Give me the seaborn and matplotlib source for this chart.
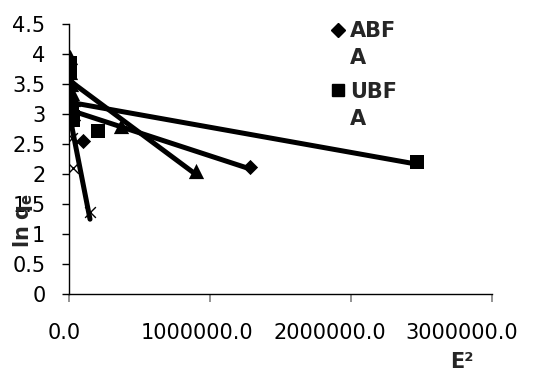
import numpy as np
import matplotlib
matplotlib.use("Agg")
import matplotlib.pyplot as plt
from matplotlib.legend_handler import HandlerLine2D
from matplotlib.lines import Line2D
import seaborn as sns

# values (E^2 on x, ln qe on y)
abfa_e2 = [5000, 10000, 15000, 20000, 25000, 99000, 1284000]
abfa_lnq = [3.5, 3.25, 3.1, 2.95, 2.9, 2.55, 2.12]

ubfa_e2 = [5000, 10000, 15000, 20000, 25000, 30000, 206000, 2470000]
ubfa_lnq = [3.85, 3.7, 3.1, 3.0, 2.95, 2.9, 2.72, 2.2]

tri_e2 = [5000, 10000, 15000, 20000, 25000, 369000, 900000]
tri_lnq = [3.95, 3.7, 3.5, 3.35, 3.25, 2.8, 2.05]

crs_e2 = [3000, 6000, 10000, 20000, 30000, 149000]
crs_lnq = [3.4, 3.2, 2.9, 2.6, 2.1, 1.37]

legend_labels = ["ABF\nA", "UBF\nA"]
x_ticks = [0, 1000000, 2000000, 3000000]
x_ticklabels = ["0.0", "1000000.0", "2000000.0", "3000000.0"]
y_ticks = [0, 0.5, 1, 1.5, 2, 2.5, 3, 3.5, 4, 4.5]
y_ticklabels = ["0", "0.5", "1", "1.5", "2", "2.5", "3", "3.5", "4", "4.5"]

sns.set_theme(style="white")
plt.rcParams["font.family"] = ["DejaVu Sans"]

fig = plt.figure(figsize=(5.56, 3.73), dpi=100)
ax = fig.add_axes([69 / 556, 1 - 294 / 373, 423 / 556, 270 / 373])

series = [
    (abfa_e2, abfa_lnq, "D", 60),
    (ubfa_e2, ubfa_lnq, "s", 100),
    (tri_e2, tri_lnq, "^", 120),
]

for e2, lnq, mk, sz in series:
    sns.scatterplot(x=e2, y=lnq, marker=mk, s=sz, color="black", linewidth=0, ax=ax, zorder=3)
sns.scatterplot(x=crs_e2, y=crs_lnq, marker="x", s=60, color="black", linewidth=1, ax=ax, zorder=3)

# linear trendlines over each series' data range
for e2, lnq in [(abfa_e2, abfa_lnq), (ubfa_e2, ubfa_lnq), (tri_e2, tri_lnq), (crs_e2, crs_lnq)]:
    sns.regplot(x=e2, y=lnq, scatter=False, ci=None, truncate=True, color="black",
                line_kws={"linewidth": 3.6, "solid_capstyle": "round", "zorder": 4}, ax=ax)

ax.set_xlim(0, 3000000)
ax.set_ylim(0, 4.5)
ax.set_xticks(x_ticks)
ax.set_xticklabels([])
ax.set_yticks(y_ticks)
ax.set_yticklabels(y_ticklabels)

ax.tick_params(axis="x", bottom=True, direction="out", length=6, width=1.2, color="gray")
ax.tick_params(axis="y", left=True, direction="out", length=5, width=1,
               color="black", pad=12, labelsize=15, labelcolor="black")

# x tick labels: in the original they sit low and drift left of their ticks
for xt, lab, dx in zip(x_ticks, x_ticklabels, [-5, -13, -21, -30]):
    ax.annotate(lab, xy=(xt, 0), xycoords=ax.get_xaxis_transform(), xytext=(dx, -39),
                textcoords="offset pixels", ha="center", va="center", fontsize=15,
                color="black", annotation_clip=False)

for s in ["top", "right"]:
    ax.spines[s].set_visible(False)
for s in ["left", "bottom"]:
    ax.spines[s].set_color("black")
    ax.spines[s].set_linewidth(1)

ax.set_xlabel("E²", fontsize=15, fontweight="bold")
ax.xaxis.set_label_coords((462 - 69) / 423, (294 - 352) / 270)
ax.set_ylabel(r"$\mathbf{ln\ q_e}$", fontsize=15)
ax.yaxis.set_label_coords((35 - 69) / 423, (294 - 220) / 270)


class RaisedMarker(HandlerLine2D):
    # put the marker next to the first line of a two-line label
    def create_artists(self, legend, orig_handle, xdescent, ydescent, width, height, fontsize, trans):
        arts = super().create_artists(legend, orig_handle, xdescent, ydescent, width, height, fontsize, trans)
        for a in arts:
            a.set_ydata(np.asarray(a.get_ydata()) + 0.75 * fontsize)
        return arts


handles = [Line2D([], [], marker="D", color="black", linestyle="none", markersize=7),
           Line2D([], [], marker="s", color="black", linestyle="none", markersize=8)]
leg = ax.legend(handles, legend_labels, loc="upper left", bbox_to_anchor=(332 / 556, 1 - 21 / 373),
                bbox_transform=fig.transFigure, frameon=False, prop={"weight": "bold", "size": 15},
                handlelength=0.6, handletextpad=0.25, labelspacing=0.65, borderpad=0, borderaxespad=0,
                handler_map={Line2D: RaisedMarker()})
for t in leg.get_texts():
    t.set_linespacing(1.45)

fig.savefig("out.png", dpi=100)
